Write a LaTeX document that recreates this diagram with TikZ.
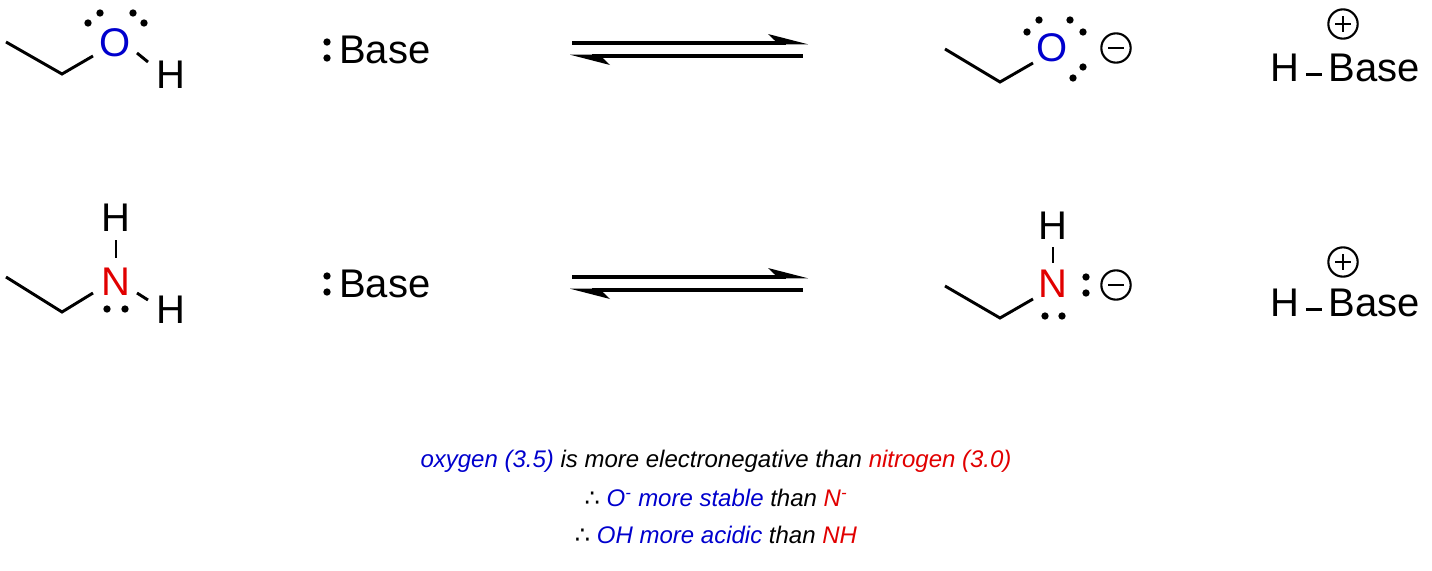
\documentclass[tikz,border=0pt]{standalone}
\usepackage{fontspec}
\usetikzlibrary{calc}
\setmainfont{Liberation Sans}
\newfontfamily\djv{DejaVu Sans}
\definecolor{oblue}{RGB}{0,0,205}
\definecolor{nred}{RGB}{225,0,0}
\begin{document}
\begin{tikzpicture}[x=0.75pt,y=-0.75pt,
  bond/.style={line width=2.2pt,line cap=butt},
  atom/.style={inner sep=0pt,font=\fontsize{30}{30}\selectfont},
  lp/.style={fill=black,circle,inner sep=0pt,minimum size=5.5pt},
  chg/.style={draw,circle,line width=1.6pt,inner sep=0pt,minimum size=22pt},
  arr/.style={line width=2.6pt},
  note/.style={inner sep=0pt,font=\fontsize{18}{18}\selectfont\itshape}]
\useasboundingbox (0,0) rectangle (1432,571);
% ---------- row 1 reactant
\coordinate (a1) at (6,42); \coordinate (a2) at (62,74); \coordinate (a3) at (93,56);
\node[atom,text=oblue] (O1) at (115,43) {O};
\node[atom] (H1) at (171,75) {H};
\draw[bond] (a1) -- (a2) -- (a3);
\coordinate (b1) at (137,53); \coordinate (b2) at (148,62);
\draw[bond] (b1) -- (b2);
\node[lp] (d1) at (100,13) {}; \node[lp] (d2) at (133,13) {};
\node[lp] (d3) at (88,23) {};  \node[lp] (d4) at (144,23) {};
% base 1
\node[lp] (c1) at (327,42) {}; \node[lp] (c2) at (327,58) {};
\node[atom,anchor=west] (B1) at (339,50) {Base};
% ---------- row 2 reactant
\coordinate (e1) at (6,277); \coordinate (e2) at (62,312); \coordinate (e3) at (93,293);
\node[atom,text=nred] (N1) at (116,282) {N};
\node[atom] (H2) at (116,218) {H};
\node[atom] (H3) at (171,310) {H};
\draw[bond] (e1) -- (e2) -- (e3);
\coordinate (f1) at (116,240); \coordinate (f2) at (116,258);
\draw[bond] (f1) -- (f2);
\coordinate (g1) at (137,293); \coordinate (g2) at (148,300);
\draw[bond] (g1) -- (g2);
\node[lp] (d5) at (107,309) {}; \node[lp] (d6) at (125,309) {};
\node[lp] (c3) at (327,276) {}; \node[lp] (c4) at (327,292) {};
\node[atom,anchor=west] (B2) at (339,284) {Base};
% ---------- equilibrium arrows
\foreach \yy/\nm in {43/t,277/u}{
  \coordinate (\nm1) at (572,\yy); \coordinate (\nm2) at (806,\yy);
  \coordinate (\nm3) at (572,\yy+13); \coordinate (\nm4) at (806,\yy+13);
  \draw[arr] (\nm1) -- ($(\nm2)+(-20,0)$);
  \fill ($(\nm2)+(2,1.3)$) -- ($(\nm2)+(-38,-9)$) -- ($(\nm2)+(-30,-1.3)$) -- ($(\nm2)+(-30,1.3)$) -- cycle;
  \draw[arr] ($(\nm3)+(20,0)$) -- ($(\nm4)+(-3,0)$);
  \fill ($(\nm3)+(-2,-1.3)$) -- ($(\nm3)+(38,9)$) -- ($(\nm3)+(30,1.3)$) -- ($(\nm3)+(30,-1.3)$) -- cycle;
}
% ---------- row 1 product
\coordinate (p1) at (945,49); \coordinate (p2) at (1000,82); \coordinate (p3) at (1033,63);
\draw[bond] (p1) -- (p2) -- (p3);
\node[atom,text=oblue] (O2) at (1052,48) {O};
\node[lp] (q1) at (1039,20) {}; \node[lp] (q2) at (1070,20) {};
\node[lp] (q3) at (1027,32) {}; \node[lp] (q4) at (1083,32) {};
\node[lp] (q5) at (1083,67) {}; \node[lp] (q6) at (1073,78) {};
\node[chg] (m1) at (1116,48) {}; \draw[line width=2pt] ($(m1)+(-8,0)$) -- ($(m1)+(8,0)$);
\node[atom,anchor=west] (HB1) at (1270,68) {H\,\raisebox{0.25ex}{\rule{12pt}{2.2pt}}\,Base};
\node[chg] (pl1) at (1343,24) {};
\draw[line width=2pt] ($(pl1)+(-8,0)$) -- ($(pl1)+(8,0)$) ($(pl1)+(0,-8)$) -- ($(pl1)+(0,8)$);
% ---------- row 2 product
\coordinate (r1) at (945,286); \coordinate (r2) at (1000,318); \coordinate (r3) at (1033,299);
\draw[bond] (r1) -- (r2) -- (r3);
\node[atom,text=nred] (N2) at (1053,284) {N};
\node[atom] (H4) at (1053,226) {H};
\coordinate (s1) at (1053,247); \coordinate (s2) at (1053,263);
\draw[bond] (s1) -- (s2);
\node[lp] (q7) at (1086,277) {}; \node[lp] (q8) at (1086,293) {};
\node[lp] (q9) at (1045,316) {}; \node[lp] (q10) at (1062,316) {};
\node[chg] (m2) at (1116,285) {}; \draw[line width=2pt] ($(m2)+(-8,0)$) -- ($(m2)+(8,0)$);
\node[atom,anchor=west] (HB2) at (1270,303) {H\,\raisebox{0.25ex}{\rule{12pt}{2.2pt}}\,Base};
\node[chg] (pl2) at (1343,262) {};
\draw[line width=2pt] ($(pl2)+(-8,0)$) -- ($(pl2)+(8,0)$) ($(pl2)+(0,-8)$) -- ($(pl2)+(0,8)$);
% ---------- notes
\node[note] (n1) at (716,461) {\textcolor{oblue}{oxygen (3.5)} is more electronegative than \textcolor{nred}{nitrogen (3.0)}};
\node[note] (n2) at (716,498) {{\upshape\djv ∴} \textcolor{oblue}{O\textsuperscript{-} more stable} than \textcolor{nred}{N\textsuperscript{-}}};
\node[note] (n3) at (716,535) {{\upshape\djv ∴} \textcolor{oblue}{OH more acidic} than \textcolor{nred}{NH}};
\end{tikzpicture}
\end{document}
